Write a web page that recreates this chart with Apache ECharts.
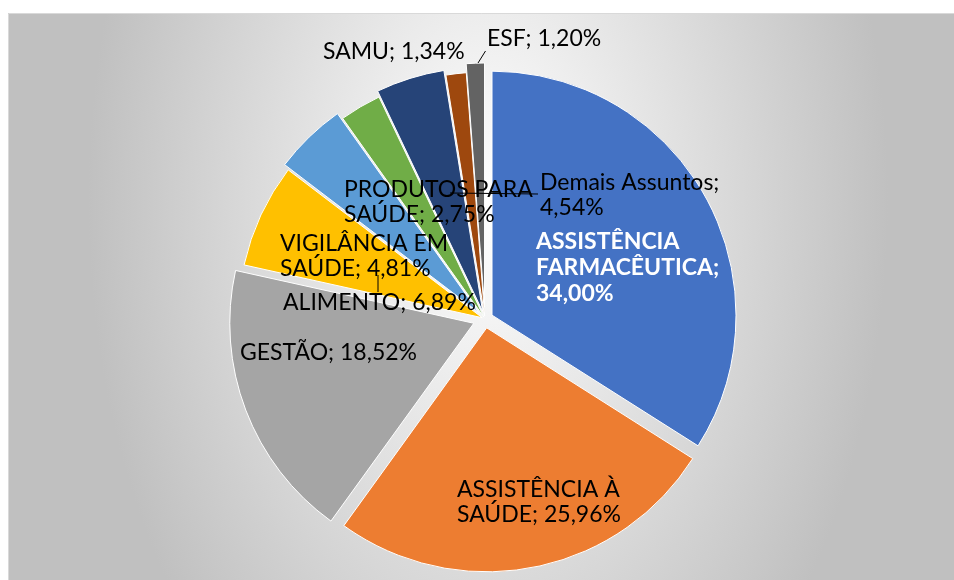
<!DOCTYPE html>
<html>
<head>
<meta charset="utf-8">
<script src="https://cdn.jsdelivr.net/npm/echarts@6/dist/echarts.min.js"></script>
<style>
  html, body { margin: 0; padding: 0; background: #fff; }
  #main { width: 954px; height: 580px; }
</style>
</head>
<body>
<div id="main"></div>
<script>
    var categories = ['ASSISTÊNCIA FARMACÊUTICA', 'ASSISTÊNCIA À SAÚDE', 'GESTÃO', 'ALIMENTO',
        'VIGILÂNCIA EM SAÚDE', 'PRODUTOS PARA SAÚDE', 'Demais Assuntos', 'SAMU', 'ESF'];
    var values = [34.00, 25.96, 18.52, 6.89, 4.81, 2.75, 4.54, 1.34, 1.20];
    var colors = ['#4472C4', '#ED7D31', '#A5A5A5', '#FFC000', '#5B9BD5', '#70AD47', '#264478', '#9E480E', '#636363'];

    // how far each slice is pulled out (px)
    var explode = [8, 9, 12, 3, 9, 2, 8, 3, 12];

    // label text as wrapped in the chart
    var labelText = [
        'ASSISTÊNCIA\nFARMACÊUTICA;\n{v}',
        'ASSISTÊNCIA À\nSAÚDE; {v}',
        'GESTÃO; {v}',
        'ALIMENTO; {v}',
        'VIGILÂNCIA EM\nSAÚDE; {v}',
        'PRODUTOS PARA\nSAÚDE; {v}',
        'Demais Assuntos;\n{v}',
        'SAMU; {v}',
        'ESF; {v}'
    ];
    // label boxes: left, top
    var labelBox = [
        [536, 229], [457, 477], [240, 340], [283, 290], [280, 231],
        [344, 177], [540, 170], [323, 39], [487, 26]
    ];
    // leader lines
    var leaders = [
        [[378, 292], [378, 275]],
        [[450, 193], [538, 194]],
        [[478, 63], [485.5, 51]]
    ];

    var cx = 485, cy = 319, R = 244;
    var total = values.reduce(function (a, b) { return a + b; }, 0);

    function pct(v) {
        return v.toFixed(2).replace('.', ',') + '%';
    }

    var series = values.map(function (v, i) {
        var before = values.slice(0, i).reduce(function (a, b) { return a + b; }, 0);
        var mid = (90 - 360 * (before + v / 2) / total) * Math.PI / 180;
        return {
            type: 'pie',
            center: [cx + explode[i] * Math.cos(mid), cy - explode[i] * Math.sin(mid)],
            radius: R,
            startAngle: 90,
            clockwise: true,
            silent: true,
            animation: false,
            avoidLabelOverlap: false,
            labelLine: { show: false },
            data: values.map(function (w, j) {
                var on = i === j;
                return {
                    name: categories[j],
                    value: w,
                    itemStyle: on ? { color: colors[j], borderColor: '#fff', borderWidth: 1 }
                                  : { color: 'rgba(0,0,0,0)', borderWidth: 0 },
                    label: {
                        show: on,
                        position: 'inside',
                        formatter: function (p) {
                            return labelText[p.dataIndex].replace('{v}', pct(p.value));
                        },
                        fontFamily: 'Lato',
                        fontSize: 23,
                        lineHeight: j === 0 ? 26 : 25,
                        color: j === 0 ? '#fff' : '#000',
                        fontWeight: j === 0 ? 'bold' : 'normal'
                    }
                };
            }),
            labelLayout: function (p) {
                var b = labelBox[p.dataIndex];
                return { x: b[0], y: b[1], align: 'left', verticalAlign: 'top' };
            }
        };
    });

    var graphics = [
        {
            // elliptical light centre, drawn as a circle and stretched vertically
            type: 'rect',
            x: 8, y: 13,
            scaleY: 1.6,
            silent: true,
            z: -10,
            shape: { x: 0, y: 0, width: 946, height: 567 / 1.6 },
            style: {
                fill: new echarts.graphic.RadialGradient(480, 187 / 1.6, 400, [
                    { offset: 0, color: '#ffffff' },
                    { offset: 1, color: '#c0c0c0' }
                ], true)
            }
        },
        {
            type: 'rect',
            silent: true,
            z: -10,
            shape: { x: 8.5, y: 13.5, width: 946, height: 567 },
            style: { fill: null, stroke: '#d9d9d9', lineWidth: 1 }
        }
    ];
    leaders.forEach(function (pts) {
        graphics.push({
            type: 'polyline',
            silent: true,
            z: 100,
            shape: { points: pts },
            style: { stroke: '#000', lineWidth: 1, fill: null }
        });
    });

    var myChart = echarts.init(document.getElementById('main'));
    myChart.setOption({
        backgroundColor: '#fff',
        graphic: graphics,
        series: series
    });
</script>
</body>
</html>
